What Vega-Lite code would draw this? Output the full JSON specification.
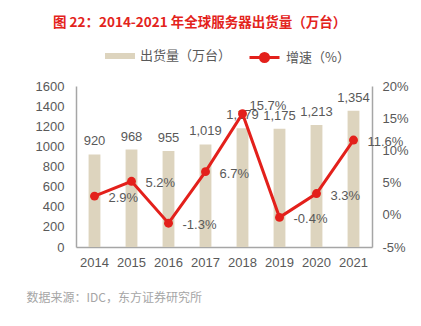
{
  "$schema": "https://vega.github.io/schema/vega-lite/v6.json",
  "autosize": {"type": "none"},
  "padding": {"left": 76, "top": 86, "right": 49, "bottom": 79},
  "width": 296,
  "height": 161,
  "background": "white",
  "config": {
    "view": {"stroke": null},
    "font": "Liberation Sans, Noto Sans CJK SC",
    "locale": {"number": {"decimal": ".", "thousands": ",", "grouping": [3], "currency": ["$", ""], "minus": "-"}},
    "axis": {"grid": false, "ticks": false, "labelOverlap": false, "domainColor": "#A6A6A6", "domainWidth": 1.5, "labelColor": "#595959", "labelFontSize": 13, "labelFont": "Liberation Sans"},
    "axisY": {"labelOverlap": false},
    "axisQuantitative": {"labelOverlap": false},
    "axisLeft": {"labelOverlap": false},
    "axisRight": {"labelOverlap": false}
  },
  "title": {
    "text": "图 22：2014-2021 年全球服务器出货量（万台）",
    "anchor": "start",
    "frame": "group",
    "dx": -23,
    "offset": 12,
    "color": "#E3231C",
    "fontSize": 13.5,
    "fontWeight": "bold",
    "font": "Noto Sans CJK SC"
  },
  "data": {
    "values": [
      {"year": "2014", "shipments": 920, "growth": 0.029},
      {"year": "2015", "shipments": 968, "growth": 0.052},
      {"year": "2016", "shipments": 955, "growth": -0.013},
      {"year": "2017", "shipments": 1019, "growth": 0.067},
      {"year": "2018", "shipments": 1179, "growth": 0.157},
      {"year": "2019", "shipments": 1175, "growth": -0.004},
      {"year": "2020", "shipments": 1213, "growth": 0.033},
      {"year": "2021", "shipments": 1354, "growth": 0.116}
    ]
  },
  "encoding": {
    "x": {
      "field": "year", "type": "nominal", "sort": null,
      "scale": {"paddingInner": 0.68, "paddingOuter": 0.34},
      "axis": {"labelAngle": 0, "labelPadding": 9, "title": "数据来源：IDC，东方证券研究所", "titleColor": "#A6A6A6", "titleFontSize": 12, "titleFontWeight": "normal", "titleFont": "Noto Sans CJK SC", "titleAnchor": "start", "titleAlign": "left", "titleBaseline": "middle", "titleX": -50, "titleY": 50}
    }
  },
  "layer": [
    {
      "mark": {"type": "bar"},
      "encoding": {
        "y": {"field": "shipments", "type": "quantitative", "scale": {"domain": [0, 1600], "nice": false}, "axis": {"title": null, "tickCount": 8, "format": "d", "labelPadding": 12, "labelOverlap": false}},
        "color": {"datum": "出货量（万台）", "type": "nominal", "scale": {"range": ["#DDD4BE"]},
          "legend": {"orient": "none", "legendX": 29, "legendY": -45, "title": null, "symbolType": "M-1,-0.2H1V0.2H-1Z", "symbolSize": 900, "symbolStrokeWidth": 0, "labelColor": "#595959", "labelFontSize": 13, "labelFont": "Noto Sans CJK SC", "labelOffset": 5}}
      }
    },
    {
      "mark": {"type": "text", "baseline": "bottom", "dy": -6, "fontSize": 13, "color": "#595959"},
      "encoding": {
        "y": {"field": "shipments", "type": "quantitative", "scale": {"domain": [0, 1600], "nice": false}, "axis": null},
        "text": {"field": "shipments", "type": "quantitative", "format": ",.0f"}
      }
    },
    {
      "mark": {"type": "line", "strokeWidth": 3, "color": "#E3201B"},
      "encoding": {
        "y": {"field": "growth", "type": "quantitative", "scale": {"domain": [-0.05, 0.2], "nice": false, "zero": false}, "axis": {"orient": "right", "title": null, "values": [-0.05, 0, 0.05, 0.1, 0.15, 0.2], "format": ".0%", "labelPadding": 10, "labelOverlap": false}},
        "stroke": {"datum": "增速（%）", "type": "nominal", "scale": {"range": ["#E3201B"]},
          "legend": {"orient": "none", "legendX": 172, "legendY": -45, "title": null, "symbolType": "M-1,0H1M0.27,0A0.27,0.27 0 1,1 -0.27,0A0.27,0.27 0 1,1 0.27,0", "symbolSize": 900, "symbolStrokeWidth": 3, "symbolFillColor": "#E3201B", "symbolStrokeColor": "#E3201B", "labelColor": "#595959", "labelFontSize": 13, "labelFont": "Noto Sans CJK SC", "labelOffset": 5}}
      }
    },
    {
      "mark": {"type": "point", "filled": true, "size": 80, "color": "#E3201B", "opacity": 1},
      "encoding": {"y": {"field": "growth", "type": "quantitative", "scale": {"domain": [-0.05, 0.2], "nice": false, "zero": false}, "axis": null}}
    },
    {
      "transform": [{"filter": "datum.year != '2018'"}],
      "mark": {"type": "text", "align": "left", "baseline": "middle", "dx": 14, "dy": 2, "fontSize": 13, "color": "#595959"},
      "encoding": {
        "y": {"field": "growth", "type": "quantitative", "scale": {"domain": [-0.05, 0.2], "nice": false, "zero": false}, "axis": null},
        "text": {"field": "growth", "type": "quantitative", "format": ".1%"}
      }
    },
    {
      "transform": [{"filter": "datum.year == '2018'"}],
      "mark": {"type": "text", "align": "left", "baseline": "middle", "dx": 7, "dy": -8, "fontSize": 13, "color": "#595959"},
      "encoding": {
        "y": {"field": "growth", "type": "quantitative", "scale": {"domain": [-0.05, 0.2], "nice": false, "zero": false}, "axis": null},
        "text": {"field": "growth", "type": "quantitative", "format": ".1%"}
      }
    }
  ],
  "resolve": {"scale": {"y": "independent", "color": "independent"}}
}
